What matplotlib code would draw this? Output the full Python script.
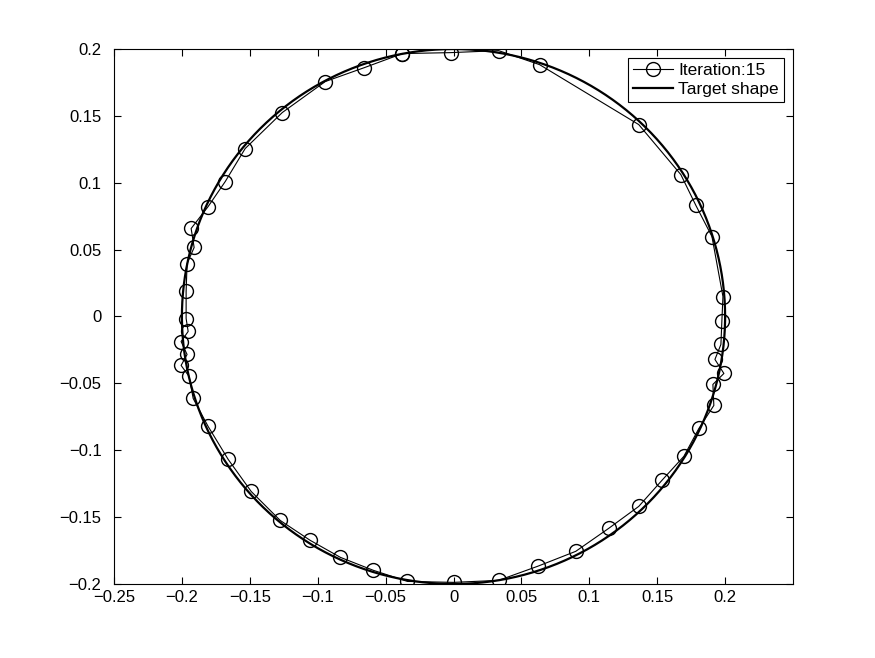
import numpy as np
import matplotlib
matplotlib.use("Agg")
import matplotlib.pyplot as plt

iter_x = [-0.0376,-0.0022,0.0332,0.0634,0.1364,0.1674,0.1785,0.1903,0.1984,0.1976,0.1969,0.1925,0.1991,0.1910,0.1917,
          0.1807,0.1696,0.1534,0.1364,0.1143,0.0900,0.0619,0.0332,0.0,-0.0339,-0.0590,-0.0833,-0.1055,-0.1276,-0.1490,
          -0.1659,-0.1807,-0.1917,-0.1947,-0.2006,-0.1962,-0.2006,-0.1954,-0.1969,-0.1969,-0.1962,-0.1910,-0.1932,-0.1807,
          -0.1681,-0.1534,-0.1261,-0.0944,-0.0656,-0.0376]
iter_y = [0.1966,0.1973,0.1988,0.1883,0.1435,0.1061,0.0830,0.0598,0.0149,-0.0037,-0.0209,-0.0321,-0.0426,-0.0508,-0.0665,
          -0.0837,-0.1046,-0.1226,-0.1420,-0.1584,-0.1756,-0.1868,-0.1973,-0.1988,-0.1981,-0.1898,-0.1801,-0.1674,-0.1525,-0.1308,
          -0.1069,-0.0822,-0.0613,-0.0448,-0.0366,-0.0284,-0.0187,-0.0112,-0.0015,0.0187,0.0396,0.0516,0.0658,0.0822,
          0.1009,0.1256,0.1525,0.1757,0.1861,0.1966]
target_radius = 0.2

plt.rcParams['font.family'] = ['Liberation Sans', 'DejaVu Sans']
fig = plt.figure(figsize=(8.75, 6.58), dpi=100)
ax = fig.add_axes([0.1303, 0.1125, 0.776, 0.813])
t = np.linspace(0, 2*np.pi, 400)
ax.plot(iter_x, iter_y, '-o', color='black', lw=0.8, mfc='none', ms=10, mew=1.0, label='Iteration:15')
ax.plot(target_radius*np.cos(t), target_radius*np.sin(t), '-', color='black', lw=1.6, label='Target shape')
ax.set_xlim(-0.25, 0.25)
ax.set_ylim(-0.2, 0.2)
ax.set_xticks([-0.25,-0.2,-0.15,-0.1,-0.05,0,0.05,0.1,0.15,0.2])
ax.set_xticklabels(['\u22120.25','\u22120.2','\u22120.15','\u22120.1','\u22120.05','0','0.05','0.1','0.15','0.2'])
yt = [-0.2,-0.15,-0.1,-0.05,0,0.05,0.1,0.15,0.2]
ax.set_yticks(yt)
ax.set_yticklabels(['\u22120.2','\u22120.15','\u22120.1','\u22120.05','0','0.05','0.1','0.15','0.2'])
ax.tick_params(direction='in', labelsize=12, top=True, right=True, length=5)
ax.tick_params(axis='x', pad=4)
ax.tick_params(axis='y', pad=9)
leg = ax.legend(loc='upper right', fontsize=12.5, fancybox=False, edgecolor='black', framealpha=1,
                borderaxespad=0.5, handlelength=2.3, handletextpad=0.3, borderpad=0.3, labelspacing=0.2)
leg.get_frame().set_linewidth(0.8)
fig.savefig('out.png', dpi=100)
